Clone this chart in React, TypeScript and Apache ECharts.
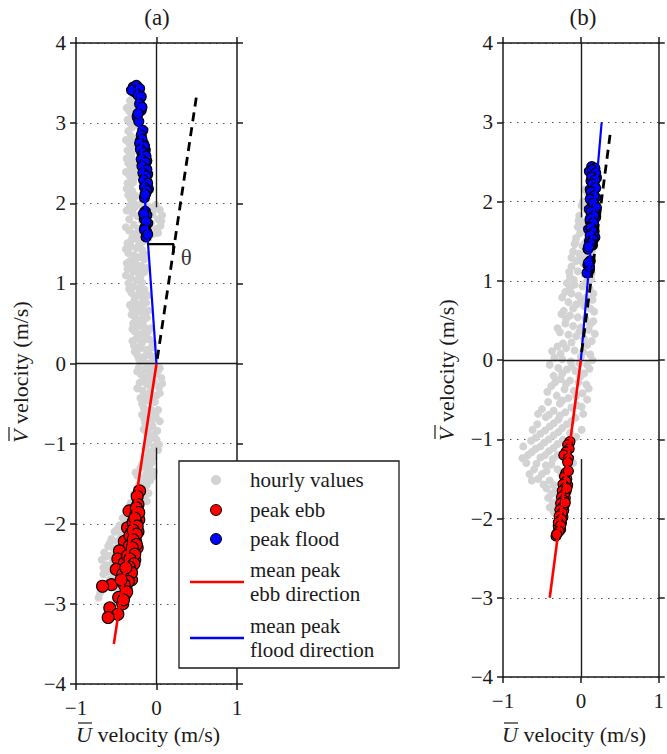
import React, { useEffect, useRef } from 'react';
import * as echarts from 'echarts';

const FONT = 'Liberation Serif';
const INK = '#1a1a1a';
const GRAY = '#d3d3d3';
const RED = '#ff0000';
const BLUE = '#0000ff';

// ---------- data, panel (a) ----------
const hourlyA: number[][] = [
  [-0.33, 3.28], [-0.30, 3.22], [-0.34, 3.15], [-0.31, 3.10], [-0.28, 3.05], [-0.33, 3.00], [-0.30, 2.95], [-0.35, 2.90],
  [-0.32, 2.84], [-0.29, 2.80], [-0.34, 2.75], [-0.31, 2.70], [-0.36, 2.66], [-0.33, 2.60], [-0.30, 2.55], [-0.35, 2.50],
  [-0.32, 2.45], [-0.29, 2.40], [-0.34, 2.35], [-0.31, 2.30], [-0.36, 2.25], [-0.33, 2.20], [-0.30, 2.15], [-0.35, 2.10],
  [-0.32, 2.05], [-0.28, 2.00], [-0.25, 3.30], [-0.22, 3.10], [-0.20, 2.90], [-0.18, 2.60], [-0.16, 2.40], [-0.14, 2.20],
  [-0.37, 3.19], [-0.27, 3.17], [-0.36, 3.04], [-0.26, 2.98], [-0.38, 2.79], [-0.27, 2.72], [-0.37, 2.56], [-0.26, 2.47],
  [-0.38, 2.39], [-0.27, 2.33], [-0.37, 2.18], [-0.26, 2.09], [-0.29, 3.33], [-0.31, 2.62], [-0.29, 2.26],
  [-0.33, 1.97], [-0.27, 1.95], [-0.20, 1.98], [-0.10, 1.96], [-0.03, 1.93], [0.04, 1.92], [0.07, 1.85], [0.02, 1.80],
  [-0.05, 1.86], [-0.12, 1.88], [-0.30, 1.88], [-0.24, 1.84], [-0.34, 1.80], [-0.18, 1.78], [-0.07, 1.75], [0.05, 1.72],
  [0.00, 1.68], [-0.28, 1.73], [-0.22, 1.68], [-0.34, 1.66], [-0.14, 1.64], [-0.04, 1.62], [-0.30, 1.58], [-0.24, 1.55],
  [-0.17, 1.52], [-0.36, 1.50], [-0.10, 1.56],
  [-0.37, 1.91], [-0.15, 1.93], [-0.01, 1.98], [0.06, 1.78], [-0.09, 1.70], [-0.27, 1.62], [-0.20, 1.59], [-0.38, 1.70],
  [0.02, 1.63], [-0.12, 1.60], [-0.32, 1.53],
  [-0.32, 1.46], [-0.25, 1.44], [-0.18, 1.42], [-0.35, 1.38], [-0.28, 1.35], [-0.21, 1.33], [-0.14, 1.36], [-0.33, 1.28],
  [-0.26, 1.25], [-0.19, 1.22], [-0.36, 1.18], [-0.29, 1.15], [-0.22, 1.12], [-0.15, 1.14], [-0.32, 1.07], [-0.25, 1.04],
  [-0.18, 1.01], [-0.35, 1.00],
  [-0.38, 1.43], [-0.22, 1.47], [-0.15, 1.30], [-0.30, 1.21], [-0.38, 1.10], [-0.12, 1.19], [-0.27, 1.31], [-0.20, 1.08],
  [-0.37, 1.25], [-0.24, 1.17],
  [-0.29, 0.96], [-0.22, 0.94], [-0.15, 0.92], [-0.31, 0.88], [-0.24, 0.85], [-0.17, 0.82], [-0.28, 0.77], [-0.21, 0.74],
  [-0.13, 0.76], [-0.30, 0.68], [-0.23, 0.65], [-0.16, 0.62], [-0.27, 0.58], [-0.20, 0.55], [-0.12, 0.57], [-0.29, 0.50],
  [-0.34, 0.93], [-0.19, 0.89], [-0.27, 0.82], [-0.11, 0.85], [-0.33, 0.73], [-0.18, 0.70], [-0.25, 0.71], [-0.31, 0.61],
  [-0.10, 0.66], [-0.24, 0.53], [-0.17, 0.51],
  [-0.22, 0.47], [-0.15, 0.45], [-0.27, 0.40], [-0.19, 0.37], [-0.11, 0.39], [-0.25, 0.31], [-0.17, 0.28], [-0.09, 0.30],
  [-0.28, 0.22], [-0.21, 0.19], [-0.13, 0.17], [-0.06, 0.20], [-0.24, 0.11], [-0.16, 0.08], [-0.08, 0.10], [-0.20, 0.02],
  [-0.12, 0.00], [-0.04, 0.03],
  [-0.30, 0.43], [-0.07, 0.44], [-0.23, 0.36], [-0.14, 0.34], [-0.30, 0.28], [-0.04, 0.25], [-0.19, 0.24], [-0.10, 0.14],
  [-0.27, 0.15], [-0.02, 0.08], [-0.22, 0.06], [-0.07, -0.01], [-0.16, 0.03],
  [-0.22, -0.05], [-0.14, -0.07], [-0.05, -0.04], [0.04, -0.06], [-0.19, -0.14], [-0.10, -0.16], [-0.01, -0.13], [0.06, -0.18],
  [-0.21, -0.24], [-0.12, -0.26], [-0.03, -0.23], [0.03, -0.30], [-0.17, -0.34], [-0.08, -0.36], [0.00, -0.40], [-0.20, -0.43],
  [-0.11, -0.46], [-0.02, -0.48],
  [-0.24, -0.10], [-0.09, -0.11], [0.02, -0.09], [-0.15, -0.19], [-0.05, -0.20], [0.07, -0.25], [-0.24, -0.31], [-0.07, -0.29],
  [-0.13, -0.40], [-0.04, -0.43], [0.04, -0.37], [-0.18, -0.50],
  [-0.16, -0.55], [-0.07, -0.57], [0.02, -0.58], [-0.18, -0.64], [-0.10, -0.67], [-0.01, -0.66], [0.04, -0.72], [-0.14, -0.75],
  [-0.05, -0.78], [0.01, -0.84], [-0.12, -0.86], [-0.07, -0.93], [0.00, -0.95], [-0.11, -1.00], [-0.03, -1.04], [0.02, -1.08],
  [-0.09, -1.12], [-0.04, -1.17],
  [-0.12, -0.61], [-0.03, -0.62], [-0.15, -0.70], [-0.06, -0.72], [-0.09, -0.81], [-0.16, -0.82], [-0.03, -0.89], [-0.10, -0.97],
  [0.03, -1.01], [-0.14, -1.06], [-0.06, -1.10], [-0.12, -1.16],
  [-0.14, -1.22], [-0.06, -1.24], [-0.20, -1.30], [-0.11, -1.33], [-0.03, -1.35], [-0.24, -1.40], [-0.16, -1.43], [-0.08, -1.46],
  [-0.21, -1.50],
  [-0.18, -1.26], [-0.09, -1.28], [-0.26, -1.36], [-0.13, -1.38], [-0.05, -1.41], [-0.18, -1.48], [-0.12, -1.52], [-0.22, -1.60],
  [-0.15, -1.66], [-0.26, -1.71], [-0.35, -1.80], [-0.23, -1.83], [-0.33, -1.91], [-0.39, -1.99],
  [-0.24, -1.55], [-0.15, -1.57], [-0.10, -1.62], [-0.28, -1.63], [-0.19, -1.68], [-0.12, -1.72], [-0.32, -1.74], [-0.25, -1.79],
  [-0.38, -1.84], [-0.30, -1.88], [-0.20, -1.86], [-0.42, -1.93], [-0.35, -1.97], [-0.27, -1.95],
  [-0.46, -2.02], [-0.40, -2.05], [-0.52, -2.10], [-0.44, -2.14], [-0.36, -2.12], [-0.56, -2.19], [-0.49, -2.22], [-0.60, -2.28],
  [-0.53, -2.31], [-0.45, -2.30], [-0.65, -2.36], [-0.58, -2.40], [-0.68, -2.45], [-0.50, -2.47], [-0.62, -2.52],
  [-0.49, -2.07], [-0.43, -2.19], [-0.58, -2.24], [-0.50, -2.36], [-0.63, -2.41], [-0.55, -2.49], [-0.66, -2.55], [-0.53, -2.64],
  [-0.61, -2.60], [-0.70, -2.86],
  [-0.56, -2.56], [-0.45, -2.60], [-0.66, -2.63], [-0.58, -2.70], [-0.72, -2.92], [-0.50, -2.80], [-0.44, -2.95]
];

const ebbA: number[][] = [
  [-0.21, -1.59], [-0.24, -1.66], [-0.23, -1.76], [-0.34, -1.84], [-0.26, -1.90], [-0.22, -1.95], [-0.25, -2.00], [-0.36, -2.05],
  [-0.28, -2.06], [-0.31, -2.11], [-0.23, -2.10], [-0.27, -2.17], [-0.40, -2.22], [-0.26, -2.22], [-0.34, -2.28], [-0.24, -2.30],
  [-0.46, -2.34], [-0.29, -2.34], [-0.31, -2.42], [-0.48, -2.44], [-0.27, -2.45], [-0.40, -2.49], [-0.30, -2.52], [-0.50, -2.57],
  [-0.33, -2.58], [-0.42, -2.63], [-0.36, -2.67], [-0.31, -2.70], [-0.56, -2.76], [-0.67, -2.78], [-0.38, -2.80], [-0.39, -2.88],
  [-0.47, -2.92], [-0.42, -3.00], [-0.58, -3.05], [-0.48, -3.13], [-0.60, -3.17], [-0.36, -2.40], [-0.33, -2.15], [-0.29, -1.98],
  [-0.25, -1.80], [-0.22, -1.86], [-0.27, -1.93], [-0.24, -2.03], [-0.29, -2.08], [-0.25, -2.13], [-0.29, -2.20], [-0.25, -2.26],
  [-0.30, -2.30], [-0.27, -2.38], [-0.33, -2.44], [-0.28, -2.50], [-0.34, -2.54], [-0.31, -2.61], [-0.35, -2.72], [-0.40, -2.76],
  [-0.37, -2.85], [-0.41, -2.95], [-0.44, -2.70], [-0.38, -2.55]
];

const floodA: number[][] = [
  [-0.29, 3.45], [-0.25, 3.47], [-0.21, 3.43], [-0.27, 3.39], [-0.31, 3.41], [-0.23, 3.35], [-0.19, 3.33], [-0.21, 3.24],
  [-0.19, 3.16], [-0.24, 3.08], [-0.22, 3.02], [-0.17, 2.91], [-0.19, 2.85], [-0.20, 2.78], [-0.16, 2.74], [-0.19, 2.70],
  [-0.14, 2.66], [-0.18, 2.62], [-0.15, 2.57], [-0.12, 2.53], [-0.17, 2.49], [-0.13, 2.44], [-0.16, 2.40], [-0.11, 2.36],
  [-0.15, 2.32], [-0.12, 2.27], [-0.14, 2.22], [-0.10, 2.18], [-0.13, 2.13], [-0.15, 2.07], [-0.14, 1.90], [-0.12, 1.85],
  [-0.15, 1.80], [-0.11, 1.75], [-0.14, 1.70], [-0.12, 1.64], [-0.13, 1.58],
  [-0.18, 2.80], [-0.21, 2.75], [-0.15, 2.71], [-0.20, 2.67], [-0.16, 2.63], [-0.13, 2.59], [-0.19, 2.55], [-0.14, 2.51],
  [-0.18, 2.46], [-0.12, 2.42], [-0.17, 2.38], [-0.13, 2.34], [-0.16, 2.29], [-0.11, 2.25], [-0.15, 2.20], [-0.12, 2.16],
  [-0.14, 2.11], [-0.18, 3.20], [-0.23, 3.12], [-0.16, 1.87], [-0.13, 1.77], [-0.15, 1.67], [-0.11, 1.61]
];

const meanEbbA: number[][] = [[0, 0], [-0.53, -3.5]];
const meanFloodA: number[][] = [[0, 0], [-0.245, 3.49]];
const mirrorEbbA: number[][] = [[0.01, 0.06], [0.5, 3.36]];
const thetaBracketA: number[][] = [[-0.115, 1.49], [0.21, 1.49], [0.21, 1.38]];
const thetaLabelA: number[][] = [[0.37, 1.32]];
const zeroGapA: number[] = [1.95, -1.05];

// ---------- data, panel (b) ----------
const hourlyB: number[][] = [
  [0.05, 2.15], [0.10, 2.08], [0.03, 2.00], [0.12, 1.95], [0.07, 1.90], [-0.02, 1.82], [0.13, 1.85], [0.09, 1.78],
  [0.02, 1.74], [-0.04, 1.68], [0.11, 1.70], [0.06, 1.63], [-0.01, 1.60], [0.14, 1.58], [-0.06, 1.54], [0.08, 1.52],
  [-0.08, 1.46], [0.02, 1.44], [0.11, 1.42], [-0.10, 1.37], [-0.02, 1.34], [0.07, 1.31], [0.13, 1.28], [-0.06, 1.25],
  [0.03, 1.22], [-0.12, 1.18], [0.10, 1.15], [-0.04, 1.12], [0.05, 1.08], [-0.14, 1.05], [0.13, 1.02],
  [-0.18, 0.97], [-0.08, 0.95], [0.02, 0.93], [0.11, 0.90], [-0.20, 0.86], [-0.12, 0.84], [-0.03, 0.81], [0.07, 0.79],
  [0.15, 0.76], [-0.16, 0.73], [-0.06, 0.70], [0.04, 0.68], [0.12, 0.65], [-0.22, 0.62],
  [-0.25, 0.58], [-0.14, 0.56], [-0.04, 0.54], [0.06, 0.52], [0.16, 0.49], [-0.20, 0.46], [-0.10, 0.43], [0.00, 0.41],
  [0.10, 0.38], [-0.27, 0.35], [-0.16, 0.32], [-0.06, 0.30], [0.04, 0.27], [0.14, 0.24], [-0.23, 0.21],
  [-0.30, 0.17], [-0.19, 0.15], [-0.08, 0.12], [0.03, 0.10], [0.12, 0.07], [-0.34, 0.03], [-0.24, 0.01], [-0.13, -0.02],
  [-0.02, -0.04], [0.08, -0.06], [-0.29, -0.10], [-0.18, -0.12], [-0.07, -0.14], [0.04, -0.17], [-0.35, -0.20],
  [-0.26, -0.24], [-0.14, -0.26], [-0.03, -0.28], [0.07, -0.31], [-0.38, -0.33], [-0.21, -0.37], [-0.09, -0.39], [0.02, -0.42],
  [-0.31, -0.45], [-0.16, -0.48], [0.08, -0.50],
  [-0.42, -0.53], [-0.27, -0.55], [-0.05, -0.57], [-0.50, -0.62], [-0.35, -0.64], [-0.20, -0.66], [0.03, -0.68], [-0.45, -0.72],
  [-0.29, -0.75], [-0.12, -0.77], [-0.56, -0.81], [-0.40, -0.84], [-0.24, -0.86], [0.01, -0.88], [-0.52, -0.93], [-0.35, -0.95],
  [-0.06, -0.97],
  [-0.64, -1.02], [-0.47, -1.04], [-0.30, -1.06], [-0.58, -1.12], [-0.41, -1.15], [-0.68, -1.20], [-0.52, -1.23], [-0.36, -1.25],
  [-0.70, -1.30], [-0.45, -1.33], [-0.60, -1.38], [-0.30, -1.38], [-0.50, -1.44], [-0.63, -1.52], [-0.40, -1.52], [-0.10, -1.30],
  [-0.25, -1.45],
  [-0.44, -1.62], [-0.33, -1.66], [-0.42, -1.74], [-0.30, -1.78], [-0.40, -1.86], [-0.35, -1.92],
  [0.08, 2.12], [0.01, 1.95], [0.10, 1.86], [-0.03, 1.76], [0.04, 1.69], [0.12, 1.64], [-0.07, 1.49], [0.05, 1.47],
  [0.14, 1.37], [-0.12, 1.29], [0.00, 1.27], [0.09, 1.22], [-0.15, 1.11], [0.14, 1.09], [-0.09, 1.01], [0.07, 0.98],
  [-0.14, 0.91], [0.16, 0.84], [-0.24, 0.79], [0.00, 0.75], [-0.10, 0.65], [0.17, 0.61], [-0.19, 0.52], [0.12, 0.45],
  [-0.30, 0.40], [-0.02, 0.36], [0.18, 0.33], [-0.12, 0.22], [0.08, 0.19], [-0.37, 0.11], [-0.26, 0.08], [0.00, 0.04],
  [0.15, 0.00], [-0.40, -0.06], [-0.12, -0.08], [0.11, -0.11], [-0.24, -0.17], [-0.01, -0.21], [-0.33, -0.28], [-0.19, -0.30],
  [0.10, -0.36], [-0.43, -0.40], [-0.06, -0.45], [-0.24, -0.51], [-0.12, -0.60], [0.01, -0.59], [-0.55, -0.68], [-0.41, -0.69],
  [-0.27, -0.70], [-0.07, -0.73], [-0.35, -0.80], [-0.18, -0.81], [-0.62, -0.88], [-0.46, -0.89], [-0.29, -0.91], [-0.14, -0.92],
  [-0.58, -0.98], [-0.41, -1.00], [-0.23, -1.01], [-0.74, -1.09], [-0.52, -1.09], [-0.35, -1.11], [-0.63, -1.16], [-0.46, -1.20],
  [-0.30, -1.20], [-0.75, -1.24], [-0.57, -1.31], [-0.38, -1.32], [-0.66, -1.44], [-0.44, -1.40], [-0.55, -1.50], [-0.35, -1.58],
  [-0.48, -1.57], [-0.38, -1.69], [-0.28, -1.72], [-0.36, -1.80], [-0.31, -1.86], [-0.30, -1.97]
];

const ebbB: number[][] = [
  [-0.14, -1.03], [-0.17, -1.07], [-0.15, -1.12], [-0.19, -1.16], [-0.22, -1.20], [-0.16, -1.24], [-0.17, -1.29], [-0.20, -1.45],
  [-0.18, -1.50], [-0.21, -1.55], [-0.17, -1.58], [-0.22, -1.62], [-0.19, -1.66], [-0.23, -1.70], [-0.20, -1.74], [-0.24, -1.78],
  [-0.21, -1.82], [-0.25, -1.86], [-0.22, -1.90], [-0.26, -1.94], [-0.23, -1.98], [-0.27, -2.02], [-0.25, -2.06], [-0.29, -2.10],
  [-0.26, -2.14], [-0.30, -2.18], [-0.32, -2.22],
  [-0.19, -1.42], [-0.21, -1.47], [-0.19, -1.53], [-0.23, -1.57], [-0.20, -1.61], [-0.24, -1.65], [-0.21, -1.69], [-0.25, -1.73],
  [-0.22, -1.77], [-0.26, -1.81], [-0.23, -1.85], [-0.27, -1.89], [-0.24, -1.93], [-0.28, -1.97], [-0.25, -2.01], [-0.29, -2.05],
  [-0.26, -2.09], [-0.28, -2.16], [-0.31, -2.20], [-0.16, -1.40], [-0.18, -1.62], [-0.20, -1.80]
];

const floodB: number[][] = [
  [0.14, 2.44], [0.18, 2.42], [0.11, 2.38], [0.16, 2.34], [0.20, 2.30], [0.13, 2.26], [0.17, 2.20], [0.12, 2.15],
  [0.16, 2.10], [0.19, 2.05], [0.14, 2.00], [0.18, 1.95], [0.11, 1.90], [0.15, 1.85], [0.19, 1.80], [0.12, 1.75],
  [0.16, 1.70], [0.10, 1.65], [0.14, 1.60], [0.18, 1.55], [0.11, 1.50], [0.15, 1.45], [0.09, 1.40], [0.12, 1.25],
  [0.09, 1.20], [0.11, 1.14], [0.08, 1.10],
  [0.15, 2.40], [0.19, 2.36], [0.14, 2.31], [0.18, 2.27], [0.15, 2.22], [0.19, 2.17], [0.13, 2.12], [0.17, 2.07],
  [0.12, 2.03], [0.16, 1.98], [0.20, 1.92], [0.13, 1.87], [0.17, 1.82], [0.12, 1.78], [0.16, 1.73], [0.13, 1.67],
  [0.17, 1.62], [0.12, 1.57], [0.16, 1.52], [0.13, 1.47], [0.10, 1.43], [0.11, 1.18], [0.10, 1.23]
];

const meanEbbB: number[][] = [[0, 0], [-0.4, -3.0]];
const meanFloodB: number[][] = [[0, 0], [0.267, 3.0]];
const mirrorEbbB: number[][] = [[0.01, 0.1], [0.38, 2.88]];
const zeroGapB: number[] = [1.8, -1.25];

// ---------- axes & text ----------
const xRange: number[] = [-1, 1];
const yRange: number[] = [-4, 4];
const panelTitles: string[] = ['(a)', '(b)'];
const legendLabels: string[] = ['hourly values', 'peak ebb', 'peak flood', 'mean peak\nebb direction', 'mean peak\nflood direction'];
const xTitle = 'U';
const yTitle = 'V';
const titleRest = ' velocity (m/s)';

const fmt = (v: number) => (v < 0 ? '\u2212' + Math.abs(v) : String(v));

function axisPair(kind: 'x' | 'y', gridIndex: number, labelled: boolean, pos: string, split: boolean) {
  const range = kind === 'x' ? xRange : yRange;
  return {
    type: 'value',
    gridIndex,
    position: pos,
    min: range[0],
    max: range[1],
    interval: 1,
    axisLine: { show: true, onZero: false, lineStyle: { color: INK, width: 1.5 } },
    axisTick: { show: true, inside: false, length: 6, lineStyle: { color: INK, width: 1.5 } },
    axisLabel: {
      show: labelled,
      margin: kind === 'x' ? 13 : 10,
      fontFamily: FONT,
      fontSize: 21,
      color: INK,
      formatter: fmt,
    },
    splitLine: split
      ? { show: true, lineStyle: { color: '#555', width: 1.2, type: [1.5, 5.5] } }
      : { show: false },
  };
}

function panelSeries(
  k: number,
  hourly: number[][],
  ebb: number[][],
  flood: number[][],
  meanEbb: number[][],
  meanFlood: number[][],
  mirror: number[][],
  gap: number[],
  ebbSize: number,
  floodSize: number
) {
  const idx = { xAxisIndex: 2 * k, yAxisIndex: 2 * k };
  return [
    {
      type: 'line', ...idx, data: [[0, 0]], symbol: 'none', silent: true, z: 1,
      lineStyle: { opacity: 0 },
      markLine: {
        silent: true, symbol: 'none', animation: false, label: { show: false },
        lineStyle: { color: INK, width: 1.4, type: 'solid' },
        data: [
          { yAxis: 0 },
          [{ coord: [0, yRange[1]] }, { coord: [0, gap[0]] }],
          [{ coord: [0, gap[1]] }, { coord: [0, yRange[0]] }],
        ],
      },
    },
    {
      name: legendLabels[0], type: 'scatter', ...idx, data: hourly, symbolSize: 8, z: 2,
      itemStyle: { color: GRAY, opacity: 1 },
    },
    {
      name: legendLabels[1], type: 'scatter', ...idx, data: ebb, symbolSize: ebbSize, z: 3,
      itemStyle: { color: RED, borderColor: '#000', borderWidth: 1.1, opacity: 1 },
    },
    {
      name: legendLabels[2], type: 'scatter', ...idx, data: flood, symbolSize: floodSize, z: 3,
      itemStyle: { color: BLUE, borderColor: '#000', borderWidth: 1.2, opacity: 1 },
    },
    {
      name: 'mean ebb', type: 'line', ...idx, data: meanEbb, symbol: 'none', z: 5,
      lineStyle: { color: RED, width: 2.6 },
    },
    {
      name: 'mean flood', type: 'line', ...idx, data: meanFlood, symbol: 'none', z: 5,
      lineStyle: { color: BLUE, width: 2.2 },
    },
    {
      name: 'mirror', type: 'line', ...idx, data: mirror, symbol: 'none', z: 6,
      lineStyle: { color: '#000', width: 2.8, type: [9, 6] },
    },
  ];
}

function App() {
  const ref = useRef<HTMLDivElement>(null);
  useEffect(() => {
    if (!ref.current) return;
    const chart = echarts.init(ref.current, null, { renderer: 'svg' });

    const legendX = 179, legendY = 461, legendW = 220, legendH = 207;
    const rowY = [480, 510, 539, 582, 638];
    const legendGraphics: any[] = [
      { type: 'rect', z: 100, shape: { x: legendX, y: legendY, width: legendW, height: legendH }, style: { fill: '#fff', stroke: INK, lineWidth: 1.3 } },
      { type: 'circle', z: 101, shape: { cx: 216, cy: rowY[0], r: 5 }, style: { fill: GRAY } },
      { type: 'circle', z: 101, shape: { cx: 216, cy: rowY[1], r: 5.5 }, style: { fill: RED, stroke: '#000', lineWidth: 1 } },
      { type: 'circle', z: 101, shape: { cx: 216, cy: rowY[2], r: 5.5 }, style: { fill: BLUE, stroke: '#000', lineWidth: 1 } },
      { type: 'line', z: 101, shape: { x1: 190, y1: rowY[3], x2: 244, y2: rowY[3] }, style: { stroke: RED, lineWidth: 2.6 } },
      { type: 'line', z: 101, shape: { x1: 190, y1: rowY[4], x2: 244, y2: rowY[4] }, style: { stroke: BLUE, lineWidth: 2.6 } },
    ];
    legendLabels.forEach((t, i) => {
      legendGraphics.push({
        type: 'text', z: 101, x: 250, y: rowY[i],
        style: { text: t, fontFamily: FONT, fontSize: 21, fill: INK, textAlign: 'left', textVerticalAlign: 'middle', lineHeight: 24 },
      });
    });

    const titleGraphics: any[] = [
      { type: 'text', x: 157, y: 17, style: { text: panelTitles[0], fontFamily: FONT, fontSize: 23, fill: INK, textAlign: 'center', textVerticalAlign: 'middle' } },
      { type: 'text', x: 583, y: 17, style: { text: panelTitles[1], fontFamily: FONT, fontSize: 23, fill: INK, textAlign: 'center', textVerticalAlign: 'middle' } },
    ];

    const richTitle = (sym: string) => ({
      text: '{i|' + sym + '}{r|' + titleRest + '}',
      rich: {
        i: { fontFamily: FONT, fontSize: 22, fontStyle: 'italic', fill: INK },
        r: { fontFamily: FONT, fontSize: 22, fill: INK },
      },
      textAlign: 'left',
      textVerticalAlign: 'middle',
    });

    const axisTitleGraphics: any[] = [
      { type: 'text', x: 76, y: 734, style: richTitle(xTitle) },
      { type: 'line', shape: { x1: 78, y1: 723, x2: 92, y2: 723 }, style: { stroke: INK, lineWidth: 1.2 } },
      { type: 'text', x: 502, y: 734, style: richTitle(xTitle) },
      { type: 'line', shape: { x1: 504, y1: 723, x2: 518, y2: 723 }, style: { stroke: INK, lineWidth: 1.2 } },
      { type: 'text', x: 20, y: 443, rotation: Math.PI / 2, style: richTitle(yTitle) },
      { type: 'line', shape: { x1: 9, y1: 441, x2: 9, y2: 427 }, style: { stroke: INK, lineWidth: 1.2 } },
      { type: 'text', x: 446, y: 441, rotation: Math.PI / 2, style: richTitle(yTitle) },
      { type: 'line', shape: { x1: 435, y1: 439, x2: 435, y2: 425 }, style: { stroke: INK, lineWidth: 1.2 } },
    ];

    const option: any = {
      animation: false,
      backgroundColor: '#fff',
      textStyle: { fontFamily: FONT },
      grid: [
        { left: 76, top: 43, width: 161, height: 641 },
        { left: 503, top: 43, width: 159, height: 634 },
      ],
      xAxis: [
        axisPair('x', 0, true, 'bottom', false),
        axisPair('x', 0, false, 'top', false),
        axisPair('x', 1, true, 'bottom', false),
        axisPair('x', 1, false, 'top', false),
      ],
      yAxis: [
        axisPair('y', 0, true, 'left', true),
        axisPair('y', 0, false, 'right', false),
        axisPair('y', 1, true, 'left', true),
        axisPair('y', 1, false, 'right', false),
      ],
      series: [
        ...panelSeries(0, hourlyA, ebbA, floodA, meanEbbA, meanFloodA, mirrorEbbA, zeroGapA, 12, 10),
        {
          name: 'theta bracket', type: 'line', xAxisIndex: 0, yAxisIndex: 0, data: thetaBracketA, symbol: 'none', z: 6,
          lineStyle: { color: '#000', width: 2.4 },
        },
        {
          name: 'theta', type: 'scatter', xAxisIndex: 0, yAxisIndex: 0, data: thetaLabelA, symbolSize: 2, z: 7,
          itemStyle: { color: 'transparent' },
          label: { show: true, position: 'inside', formatter: () => '\u03b8', fontFamily: FONT, fontSize: 23, color: '#000' },
        },
        ...panelSeries(1, hourlyB, ebbB, floodB, meanEbbB, meanFloodB, mirrorEbbB, zeroGapB, 10, 10),
      ],
      graphic: [...titleGraphics, ...axisTitleGraphics, ...legendGraphics],
    };
    chart.setOption(option);
    return () => chart.dispose();
  }, []);

  return (
    <div
      ref={ref}
      style={{ position: 'absolute', left: 0, top: 0, width: 667, height: 754, background: '#fff' }}
    />
  );
}

export default App;
